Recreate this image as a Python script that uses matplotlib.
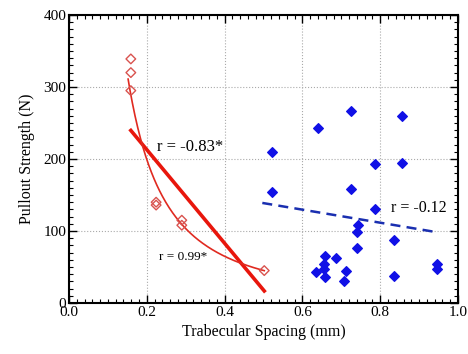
import numpy as np
import matplotlib
matplotlib.use("Agg")
import matplotlib.pyplot as plt
from matplotlib.ticker import MultipleLocator, FormatStrFormatter

plt.rcParams['font.family'] = ['Liberation Serif', 'DejaVu Serif']

# Trabecular spacing (mm) vs pullout strength (N)
red_x = [0.159, 0.159, 0.159, 0.224, 0.224, 0.290, 0.290, 0.502]
red_y = [339, 320, 295, 140, 136, 115, 108, 45]

blue_x = [0.725, 0.856, 0.640, 0.522, 0.786, 0.856, 0.725, 0.522, 0.786, 0.742,
          0.740, 0.835, 0.740, 0.659, 0.686, 0.656, 0.656, 0.635, 0.659, 0.713,
          0.706, 0.835, 0.946, 0.946]
blue_y = [267, 260, 243, 210, 193, 194, 158, 154, 130, 108,
          99, 88, 76, 65, 63, 54, 47, 43, 36, 44,
          30, 38, 54, 47]

# Trend lines
red_lin_slope, red_lin_intercept = -650.0, 343.0
red_lin_range = [0.159, 0.502]
red_pow_a, red_pow_b = 14.7, -1.62
red_pow_range = [0.152, 0.502]
blue_lin_slope, blue_lin_intercept = -90.6, 184.0
blue_lin_range = [0.497, 0.943]

fig = plt.figure(figsize=(4.68, 3.54), dpi=100)
ax = fig.add_axes([0.1474, 0.1441, 0.8312, 0.8135])

# linear fit (red)
lx = np.array(red_lin_range)
ax.plot(lx, red_lin_slope * lx + red_lin_intercept, color='#e8160c', lw=2.6, zorder=3)
# power fit (red)
px = np.linspace(*red_pow_range, 200)
ax.plot(px, red_pow_a * px ** red_pow_b, color='#e02a20', lw=1.2, zorder=3)
ax.scatter(red_x, red_y, marker='D', s=24, facecolors='none', edgecolors='#d9534f',
           linewidths=1.0, zorder=4)

# blue group
bx = np.array(blue_lin_range)
ax.plot(bx, blue_lin_slope * bx + blue_lin_intercept, color='#1a2fb0', lw=1.8,
        ls=(0, (4, 2.5)), zorder=3)
ax.scatter(blue_x, blue_y, marker='D', s=24, color='#1010e6', zorder=4)

ax.text(0.226, 217, 'r = -0.83*', fontsize=12, va='center', ha='left')
ax.text(0.231, 64, 'r = 0.99*', fontsize=9.5, va='center', ha='left')
ax.text(0.828, 132, 'r = -0.12', fontsize=11.5, va='center', ha='left')

ax.set_xlim(0, 1.0)
ax.set_ylim(0, 400)
ax.xaxis.set_major_locator(MultipleLocator(0.2))
ax.xaxis.set_minor_locator(MultipleLocator(0.02))
ax.yaxis.set_major_locator(MultipleLocator(100))
ax.yaxis.set_minor_locator(MultipleLocator(10))
ax.xaxis.set_major_formatter(FormatStrFormatter('%.1f'))
ax.tick_params(which='both', direction='in', top=True, right=True, labelsize=11)
ax.tick_params(axis='y', pad=2)
ax.tick_params(axis='x', pad=2)
ax.tick_params(which='major', length=6, width=1.0)
ax.tick_params(which='minor', length=3, width=0.8)
ax.grid(True, which='major', color='#aaaaaa', ls=':', lw=0.8)
for s in ax.spines.values():
    s.set_linewidth(1.5)

ax.set_xlabel('Trabecular Spacing (mm)', fontsize=11.5, labelpad=4)
ax.set_ylabel('Pullout Strength (N)', fontsize=11.5, labelpad=6)

fig.savefig('out.png', dpi=100)
